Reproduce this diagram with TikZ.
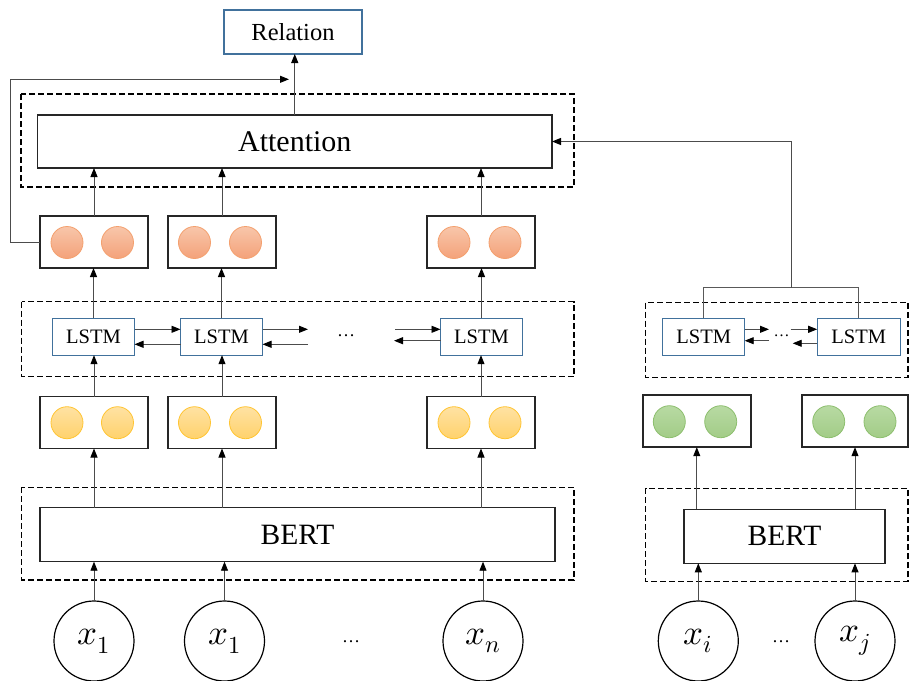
\documentclass[tikz,border=0pt]{standalone}
\usepackage{fontspec}
\usepackage{unicode-math}
\setmainfont{Liberation Serif}
\usetikzlibrary{arrows.meta}
\definecolor{lblue}{HTML}{41719C}
\definecolor{ortop}{HTML}{F8C6AA}
\definecolor{orbot}{HTML}{F4A27A}
\definecolor{orbd}{HTML}{F4A06E}
\definecolor{yetop}{HTML}{FFE2A3}
\definecolor{yebot}{HTML}{FFD26C}
\definecolor{yebd}{HTML}{FFC533}
\definecolor{grtop}{HTML}{B8DAA3}
\definecolor{grbot}{HTML}{A2CC87}
\definecolor{grbd}{HTML}{8DBF6E}
\begin{document}
\begin{tikzpicture}[x=1pt,y=-1pt,
  arr/.style={draw=black!70, line width=0.9pt, -{Triangle[length=9pt,width=7pt,color=black]}},
  ln/.style={draw=black!65, line width=0.9pt},
  dbox/.style={draw=black, line width=1.2pt, dash pattern=on 6pt off 3pt},
  blk/.style={draw=black!85, line width=1.5pt, inner sep=0pt, outer sep=0pt, fill=white},
  lstm/.style={draw=lblue, line width=1.2pt, fill=white, inner sep=0pt, outer sep=0pt, minimum width=82pt, minimum height=37pt, font=\fontsize{20.5}{22}\selectfont},
  vec/.style={blk, minimum width=108pt, minimum height=52pt},
  dotc/.style={circle, inner sep=0pt, outer sep=0pt, minimum size=32pt, line width=0.8pt},
  orc/.style={dotc, draw=orbd, top color=ortop, bottom color=orbot},
  yec/.style={dotc, draw=yebd, top color=yetop, bottom color=yebot},
  grc/.style={dotc, draw=grbd, top color=grtop, bottom color=grbot},
  inp/.style={circle, draw=black, line width=1.2pt, minimum size=80pt, inner sep=0pt, outer sep=0pt, font=\fontsize{35}{40}\selectfont},
  ell/.style={font=\fontsize{18}{20}\selectfont, inner sep=0pt},
]
\useasboundingbox (0,0) rectangle (910,680);

% dashed groups
\draw[dbox] (21,94) rectangle (574,187);
\draw[dbox] (21.8,301.7) rectangle (574,376.7);
\draw[dbox] (21.8,487.3) rectangle (574,580);
\draw[dbox] (645.7,302.7) rectangle (908,377.3);
\draw[dbox] (645.7,488.3) rectangle (908,581.7);

% top
\node[draw=lblue, line width=1.2pt, minimum width=138pt, minimum height=44pt, inner sep=0pt, outer sep=0pt, font=\fontsize{24.5}{26}\selectfont] (rel) at (293,32) {Relation};
\node[blk, minimum width=514.5pt, minimum height=53pt, font=\fontsize{30}{34}\selectfont] (att) at (294.75,141.5) {Attention};

% orange vectors
\node[vec] (ob1) at (94,242) {};
\node[vec] (ob2) at (222,242) {};
\node[vec] (ob3) at (481,242) {};
\node[orc] (o1a) at (67,242.5) {};
\node[orc] (o1b) at (117.5,242.5) {};
\node[orc] (o2a) at (194.5,242.5) {};
\node[orc] (o2b) at (245.5,242.5) {};
\node[orc] (o3a) at (454,242.5) {};
\node[orc] (o3b) at (505,242.5) {};

% LSTM row
\node[lstm] (l1) at (93.5,336.7) {LSTM};
\node[lstm] (l2) at (221.5,336.7) {LSTM};
\node[lstm] (l3) at (481.5,336.7) {LSTM};
\node[ell] (ld) at (346,336) {…};

% yellow vectors
\node[vec] (yb1) at (94,422.5) {};
\node[vec] (yb2) at (222,422.5) {};
\node[vec] (yb3) at (481,422.5) {};
\node[yec] (y1a) at (67,422.7) {};
\node[yec] (y1b) at (117.5,422.7) {};
\node[yec] (y2a) at (194.5,422.7) {};
\node[yec] (y2b) at (245.5,422.7) {};
\node[yec] (y3a) at (454,422.7) {};
\node[yec] (y3b) at (505,422.7) {};

% BERT left
\node[blk, minimum width=515pt, minimum height=54pt, font=\fontsize{29.5}{33}\selectfont] (bert) at (297.5,534.7) {BERT};

% inputs left
\node[inp] (x1) at (94,641) {$x_1$};
\node[inp] (x2) at (224.5,641) {$x_1$};
\node[inp] (xn) at (483,641) {$x_n$};
\node[ell] (bd1) at (351,642) {…};

% right side
\node[lstm] (la) at (703.7,336.7) {LSTM};
\node[lstm, minimum width=83pt] (lb) at (858.7,336.7) {LSTM};
\node[ell, font=\fontsize{16}{18}\selectfont] (rd) at (781.5,335.5) {…};
\node[vec] (ga) at (696.8,421.2) {};
\node[vec, minimum width=106pt] (gb) at (855,421.2) {};
\node[grc] (g1a) at (669.3,421.7) {};
\node[grc] (g1b) at (720.7,421.7) {};
\node[grc] (g2a) at (828.7,421.7) {};
\node[grc] (g2b) at (880,421.7) {};
\node[blk, minimum width=201pt, minimum height=54pt, font=\fontsize{29.5}{33}\selectfont] (bert2) at (784.5,536.3) {BERT};
\node[inp] (xi) at (698.3,641) {$x_i$};
\node[inp] (xj) at (855,641) {$x_j$};
\node[ell] (bd2) at (781,642) {…};

% coordinates for free ends
\coordinate (fb) at (289,79.3);
\coordinate (a2r) at (308,329.3);
\coordinate (a2l) at (308,344.3);
\coordinate (a3r) at (395,329.3);
\coordinate (a3l) at (394,340.7);
\coordinate (bar) at (769,329.3);
\coordinate (bal) at (769,340.7);
\coordinate (bbr) at (790.7,329.3);
\coordinate (bbl) at (792.7,343.3);
\coordinate (jn) at (791.7,287.7);

% connectors: left column
\draw[arr] (att.north) -- (att.north |- rel.south);
\draw[arr] (ob1.west) -- ++(-29.3,0) |- (fb);
\foreach \b in {ob1,ob2,ob3} \draw[arr] (\b.north) -- (\b.north |- att.south);
\draw[arr] (l1.north) -- (l1.north |- ob1.south);
\draw[arr] (l2.north) -- (l2.north |- ob2.south);
\draw[arr] (l3.north) -- (l3.north |- ob3.south);
\draw[arr] (yb1.north) -- (yb1.north |- l1.south);
\draw[arr] (yb2.north) -- (yb2.north |- l2.south);
\draw[arr] (yb3.north) -- (yb3.north |- l3.south);
\foreach \b in {yb1,yb2,yb3} \draw[arr] (\b.south |- bert.north) -- (\b.south);
\foreach \c in {x1,x2,xn} \draw[arr] (\c.north) -- (\c.north |- bert.south);

% LSTM chain
\draw[arr] ([yshift=7.4pt]l1.east) -- ([yshift=7.4pt]l2.west);
\draw[arr] ([yshift=-7.6pt]l2.west) -- ([yshift=-7.6pt]l1.east);
\draw[arr] (l2.east |- a2r) -- (a2r);
\draw[arr] (a2l) -- (l2.east |- a2l);
\draw[arr] (a3r) -- (l3.west |- a3r);
\draw[arr] (l3.west |- a3l) -- (a3l);

% right side connectors
\draw[arr] (la.east |- bar) -- (bar);
\draw[arr] (bal) -- (la.east |- bal);
\draw[arr] (bbr) -- (lb.west |- bbr);
\draw[arr] (lb.west |- bbl) -- (bbl);
\draw[ln] (la.north) -- (la.north |- jn) -- (lb.north |- jn) -- (lb.north);
\draw[arr] (jn) |- (att.east);
\draw[arr] (ga.south |- bert2.north) -- (ga.south);
\draw[arr] (gb.south |- bert2.north) -- (gb.south);
\draw[arr] (xi.north) -- (xi.north |- bert2.south);
\draw[arr] (xj.north) -- (xj.north |- bert2.south);
\end{tikzpicture}
\end{document}
